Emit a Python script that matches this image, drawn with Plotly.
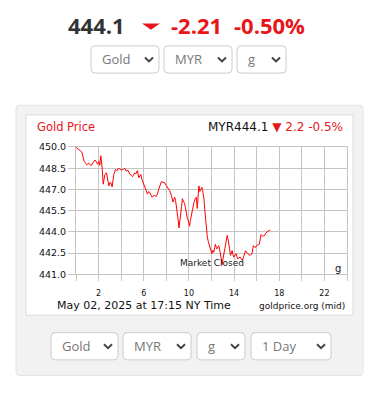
import plotly.graph_objects as go

# ---------------- data ----------------
hours = [0.0, 0.2, 0.35, 0.5, 0.62, 0.73, 0.85, 0.94, 1.05, 1.15, 1.27, 1.38, 1.5, 1.62, 1.68, 1.8, 1.91,
         2.03, 2.1, 2.2, 2.27, 2.32, 2.41, 2.5, 2.56, 2.7, 2.8, 2.91, 3.0, 3.09, 3.2, 3.28, 3.35, 3.5,
         3.6, 3.7, 3.88, 4.0, 4.18, 4.3, 4.47, 4.6, 4.77, 4.9, 5.0, 5.1, 5.2, 5.3, 5.44, 5.56, 5.65,
         5.74, 5.84, 5.94, 6.05, 6.15, 6.25, 6.33, 6.43, 6.53, 6.64, 6.74, 6.85, 6.97, 7.1, 7.21, 7.32,
         7.41, 7.56, 7.7, 7.85, 7.97, 8.09, 8.2, 8.3, 8.45, 8.52, 8.59, 8.67, 8.74, 8.82, 8.89, 8.96,
         9.03, 9.12, 9.2, 9.27, 9.35, 9.42, 9.52, 9.62, 9.7, 9.77, 9.85, 9.91, 10.0, 10.06, 10.13,
         10.21, 10.28, 10.35, 10.45, 10.56, 10.65, 10.74, 10.8, 10.88, 10.97, 11.05, 11.15, 11.22,
         11.33, 11.4, 11.47, 11.55, 11.62, 11.72, 11.83, 11.93, 12.03, 12.12, 12.2, 12.28, 12.35,
         12.42, 12.47, 12.55, 12.65, 12.73, 12.8, 12.88, 12.95, 13.02, 13.09, 13.17, 13.24, 13.32,
         13.39, 13.46, 13.53, 13.6, 13.68, 13.76, 13.83, 13.9, 13.97, 14.08, 14.18, 14.25, 14.32,
         14.42, 14.53, 14.62, 14.71, 14.78, 14.85, 14.93, 15.0, 15.1, 15.21, 15.32, 15.42, 15.5,
         15.59, 15.65, 15.71, 15.8, 15.89, 15.96, 16.04, 16.14, 16.24, 16.32, 16.39, 16.46, 16.53,
         16.62, 16.71, 16.8, 16.88, 17.0, 17.12, 17.2]
prices = [449.97, 449.84, 449.75, 449.66, 449.3, 448.97, 448.85, 448.74, 448.8, 448.85, 448.72, 448.7,
          448.88, 449.02, 449.08, 448.95, 448.78, 448.97, 448.7, 449.38, 448.9, 448.5, 447.37, 447.9,
          448.06, 448.17, 447.8, 447.25, 447.48, 447.48, 447.18, 447.6, 448.06, 448.4, 448.3, 448.45,
          448.47, 448.38, 448.4, 448.5, 448.28, 448.35, 448.06, 448.0, 447.9, 448.0, 448.17, 448.1,
          448.33, 447.82, 448.0, 448.06, 447.7, 447.48, 447.2, 447.03, 446.8, 446.68, 446.85, 446.79,
          446.6, 446.45, 446.55, 446.57, 446.5, 446.68, 447.0, 447.25, 447.55, 447.5, 447.48, 447.3,
          447.14, 447.05, 446.91, 446.57, 446.3, 446.11, 446.3, 446.45, 446.2, 445.88, 445.4, 444.97,
          444.28, 444.7, 445.08, 445.8, 446.34, 446.2, 445.99, 445.7, 445.2, 444.97, 444.9, 444.6,
          444.39, 444.8, 445.19, 445.5, 445.76, 446.1, 446.34, 446.45, 445.65, 446.4, 447.25, 446.86,
          447.0, 447.14, 446.9, 446.34, 445.6, 444.85, 444.2, 443.7, 443.3, 443.02, 442.7, 442.45,
          442.7, 442.56, 442.9, 443.13, 442.9, 442.79, 442.95, 443.02, 442.7, 442.45, 442.0, 441.69,
          442.1, 442.45, 442.8, 443.13, 443.4, 443.75, 443.5, 443.25, 442.8, 442.33, 442.5, 442.67,
          442.4, 442.22, 442.35, 442.45, 442.25, 442.1, 442.15, 442.22, 442.1, 441.99, 442.1, 442.22,
          442.45, 442.67, 442.55, 442.45, 442.4, 442.33, 442.4, 442.45, 442.8, 443.02, 442.95, 442.9,
          443.0, 443.06, 443.1, 443.13, 443.5, 443.82, 443.75, 443.7, 443.72, 443.75, 443.9, 443.98,
          444.05, 444.11, 444.1]

x_tickvals = [0, 2, 4, 6, 8, 10, 12, 14, 16, 18, 20, 22, 24]
x_ticktext = ["", "2", "", "6", "", "10", "", "14", "", "18", "", "22", ""]
y_tickvals = [441.0, 442.5, 444.0, 445.5, 447.0, 448.5, 450.0]

price_now = "444.1"
change_abs = "-2.21"
change_pct = "-0.50%"
chart_title = "Gold Price"
chart_quote_a = "MYR444.1"
chart_quote_b = "▼ 2.2 -0.5%"
timestamp = "May 02, 2025 at 17:15 NY Time"
source = "goldprice.org (mid)"
unit = "g"
closed_text = "Market Closed"
top_menus = ["Gold", "MYR", "g"]
bottom_menus = ["Gold", "MYR", "g", "1 Day"]

# ---------------- layout helpers ----------------
W, H = 384, 395
RED = "#e8151b"


def px(x):
    return x / W


def py(y):
    return 1 - y / H


def rrect(x0, y0, x1, y1, r):
    return (f"M {px(x0 + r)} {py(y0)} L {px(x1 - r)} {py(y0)} Q {px(x1)} {py(y0)} {px(x1)} {py(y0 + r)} "
            f"L {px(x1)} {py(y1 - r)} Q {px(x1)} {py(y1)} {px(x1 - r)} {py(y1)} "
            f"L {px(x0 + r)} {py(y1)} Q {px(x0)} {py(y1)} {px(x0)} {py(y1 - r)} "
            f"L {px(x0)} {py(y0 + r)} Q {px(x0)} {py(y0)} {px(x0 + r)} {py(y0)} Z")


shapes = []
annotations = []

# outer grey panel and inner white card
shapes.append(dict(type="path", xref="paper", yref="paper", layer="below",
                   path=rrect(16, 102, 363, 380, 3), fillcolor="#f2f2f2",
                   line=dict(color="#e3e3e3", width=1)))
shapes.append(dict(type="path", xref="paper", yref="paper", layer="below",
                   path=rrect(26, 112, 353, 318, 0), fillcolor="#ffffff",
                   line=dict(color="#dcdcdc", width=1)))


def dropdown(x0, x1, y0, y1, label):
    shapes.append(dict(type="path", xref="paper", yref="paper", layer="below",
                       path=rrect(x0, y0, x1, y1, 4), fillcolor="#ffffff",
                       line=dict(color="#cccccc", width=1)))
    cx = x1 - 10
    cy = (y0 + y1) / 2
    shapes.append(dict(type="path", xref="paper", yref="paper",
                       path=f"M {px(cx - 4)} {py(cy - 2)} L {px(cx)} {py(cy + 2)} L {px(cx + 4)} {py(cy - 2)}",
                       line=dict(color="#444444", width=2)))
    annotations.append(dict(xref="paper", yref="paper", x=px(x0 + 9), y=py(cy), text=label,
                            showarrow=False, xanchor="left", yanchor="middle",
                            font=dict(family="Open Sans", size=13, color="#777777")))


top_boxes = [(91, 159), (164, 232), (237, 286)]
for (a, b), lab in zip(top_boxes, top_menus):
    dropdown(a, b, 41, 69, lab)
bottom_boxes = [(51, 118), (123, 191), (197, 245), (251, 331)]
for (a, b), lab in zip(bottom_boxes, bottom_menus):
    dropdown(a, b, 336, 364, lab)

# header
HY = 20
annotations.append(dict(xref="paper", yref="paper", x=px(127), y=py(HY), text=f"<b>{price_now}</b>",
                        showarrow=False, xanchor="right", yanchor="middle",
                        font=dict(family="Open Sans", size=22, color="#333333")))
shapes.append(dict(type="path", xref="paper", yref="paper",
                   path=f"M {px(142)} {py(18)} L {px(160)} {py(18)} L {px(151)} {py(24.5)} Z",
                   fillcolor=RED, line=dict(color=RED, width=0)))
annotations.append(dict(xref="paper", yref="paper", x=px(169), y=py(HY), text=f"<b>{change_abs}</b>",
                        showarrow=False, xanchor="left", yanchor="middle",
                        font=dict(family="Open Sans", size=22, color=RED)))
annotations.append(dict(xref="paper", yref="paper", x=px(232), y=py(HY), text=f"<b>{change_pct}</b>",
                        showarrow=False, xanchor="left", yanchor="middle",
                        font=dict(family="Open Sans", size=22, color=RED)))

# chart card texts
annotations.append(dict(xref="paper", yref="paper", x=px(35), y=py(124), text=chart_title,
                        showarrow=False, xanchor="left", yanchor="middle",
                        font=dict(family="DejaVu Sans", size=11.5, color=RED)))
annotations.append(dict(xref="paper", yref="paper", x=px(345), y=py(124),
                        text=f"{chart_quote_a} <span style='color:{RED}'>{chart_quote_b}</span>",
                        showarrow=False, xanchor="right", yanchor="middle",
                        font=dict(family="DejaVu Sans", size=12, color="#111111")))
annotations.append(dict(xref="paper", yref="paper", x=px(56), y=py(308.5), text=timestamp,
                        showarrow=False, xanchor="left", yanchor="middle", borderpad=0,
                        font=dict(family="DejaVu Sans", size=11, color="#111111")))
annotations.append(dict(xref="paper", yref="paper", x=px(346), y=py(308.5), text=source,
                        showarrow=False, xanchor="right", yanchor="middle", borderpad=0,
                        font=dict(family="DejaVu Sans", size=9, color="#111111")))
annotations.append(dict(xref="paper", yref="paper", x=px(338), y=py(270), text=unit,
                        showarrow=False, xanchor="center", yanchor="middle",
                        font=dict(family="DejaVu Sans", size=10, color="#111111")))
annotations.append(dict(xref="x", yref="y", x=12, y=441.8, text=closed_text,
                        showarrow=False, xanchor="center", yanchor="middle",
                        font=dict(family="DejaVu Sans", size=9, color="#222222")))

fig = go.Figure()
fig.add_trace(go.Scatter(x=hours, y=prices, mode="lines",
                         line=dict(color="#ff0000", width=1), hoverinfo="skip"))

GRID = "#c4c4c4"
fig.update_layout(
    width=W, height=H, margin=dict(l=0, r=0, t=0, b=0),
    paper_bgcolor="#ffffff", plot_bgcolor="rgba(0,0,0,0)",
    showlegend=False,
    xaxis=dict(domain=[px(76), px(347)], range=[0, 24], tickvals=x_tickvals, ticktext=x_ticktext,
               showgrid=True, gridcolor=GRID, gridwidth=1, zeroline=False,
               showline=True, linecolor=GRID, mirror=True,
               ticks="outside", ticklen=6, tickcolor=GRID,
               ticklabelstandoff=5,
               tickfont=dict(family="DejaVu Sans", size=8, color="#111111")),
    yaxis=dict(domain=[py(276), py(145)], range=[441, 450], tickvals=y_tickvals, tickformat=".1f",
               showgrid=True, gridcolor=GRID, gridwidth=1, zeroline=False,
               showline=True, linecolor=GRID, mirror=True,
               ticks="outside", ticklen=7, tickcolor=GRID,
               tickfont=dict(family="DejaVu Sans", size=9.5, color="#111111")),
    shapes=shapes, annotations=annotations,
)

fig.write_html("out.html", config={"displayModeBar": False},
               post_script="document.body.style.margin='0';")
